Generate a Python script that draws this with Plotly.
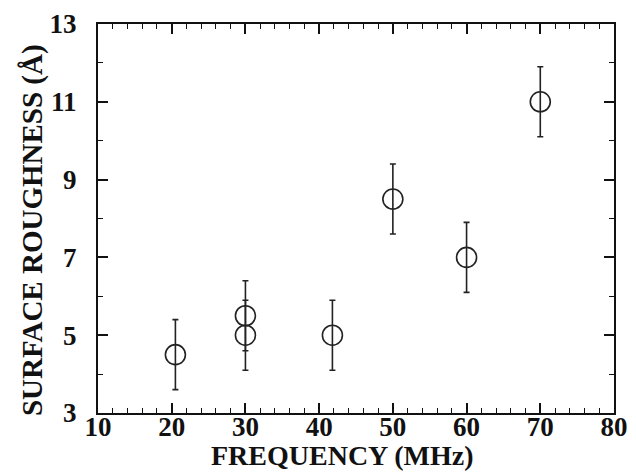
import plotly.graph_objects as go

frequency = [20.5, 30, 30, 41.8, 50, 60, 70]
roughness = [4.5, 5.5, 5.0, 5.0, 8.5, 7.0, 11.0]
error = [0.9, 0.9, 0.9, 0.9, 0.9, 0.9, 0.9]

x_ticks = [10, 20, 30, 40, 50, 60, 70, 80]
y_ticks = [3, 5, 7, 9, 11, 13]

x_title = "FREQUENCY (MHz)"
y_title = "SURFACE ROUGHNESS (Å)"

font_family = "Liberation Serif, Times New Roman, serif"
ink = "#111111"

fig = go.Figure()
fig.add_trace(go.Scatter(
    x=frequency, y=roughness, mode="markers",
    marker=dict(symbol="circle-open", size=20, color="#222222", line=dict(width=1.6, color="#222222")),
    error_y=dict(type="data", array=error, visible=True, color="#222222", thickness=1.6, width=3),
    showlegend=False,
    cliponaxis=False,
))

axis_common = dict(
    showline=True, linecolor=ink, linewidth=2, mirror="ticks",
    ticks="inside", tickcolor=ink, tickwidth=1.5, ticklen=10,
    showgrid=False, zeroline=False, automargin=False,
    tickfont=dict(family=font_family, size=27, color=ink, weight="bold"),
)

fig.update_xaxes(
    range=[10, 80], tickvals=x_ticks, ticktext=[str(v) for v in x_ticks],
    minor=dict(ticks="inside", dtick=2, ticklen=5, tickwidth=1.2, tickcolor=ink),
    ticklabelstandoff=-11,
    **axis_common,
)
fig.update_yaxes(
    range=[3, 13], tickvals=y_ticks, ticktext=[str(v) for v in y_ticks],
    minor=dict(ticks="inside", dtick=1, ticklen=5, tickwidth=1.2, tickcolor=ink),
    ticklabelstandoff=14,
    **axis_common,
)

fig.add_annotation(
    text=x_title, xref="paper", yref="paper", x=0.473, y=-0.108,
    xanchor="center", yanchor="middle", showarrow=False,
    font=dict(family=font_family, size=28, color=ink, weight="bold"),
)
fig.add_annotation(
    text=y_title, xref="paper", yref="paper", x=-0.128, y=0.47,
    xanchor="center", yanchor="middle", showarrow=False, textangle=-90,
    font=dict(family=font_family, size=29, color=ink, weight="bold"),
)

# page body has an 8px default margin, so the figure is sized to fit the window
fig.update_layout(
    width=628, height=464,
    margin=dict(l=90, r=22, t=16, b=59),
    plot_bgcolor="white", paper_bgcolor="white",
)

fig.write_html("out.html")
